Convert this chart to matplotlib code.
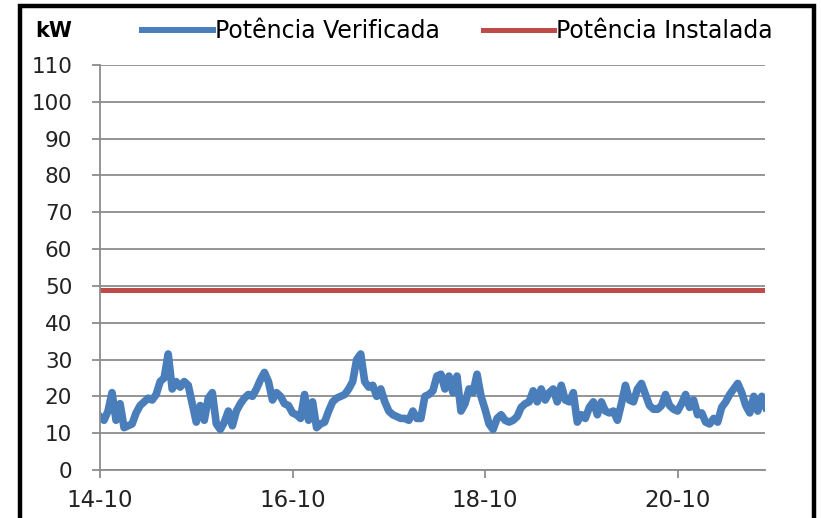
import numpy as np
import pandas as pd
import matplotlib
matplotlib.use("Agg")
from matplotlib import pyplot as plt
from matplotlib.patches import Rectangle

# hourly readings from 14-10 00:00 (kW)
potencia_verificada = [
    14.5, 13.5, 16, 21, 13.5, 18, 11.5, 12, 12.5, 15.5, 17.5, 18.5, 19.5, 19, 20.5, 24,
    25, 31.5, 22, 24, 22.5, 24, 23, 18, 13, 17.5, 13.5, 19.5, 21, 12.5, 11, 13,
    16, 12, 16, 18, 19.5, 20.5, 20, 22, 24.5, 26.5, 24, 19, 21, 20, 18, 17.5,
    15.5, 15, 14, 20.5, 13.5, 18.5, 11.5, 12.5, 13, 16, 18.5, 19.5, 20, 20.5, 22, 24,
    30, 31.5, 24, 22.5, 23, 20, 22, 18.5, 16, 15, 14.5, 14, 14, 13.5, 16, 14,
    14, 20, 20.5, 21.5, 25.5, 26, 22, 25.5, 21, 25.5, 16, 18, 22, 21, 26, 20,
    16.5, 12.5, 11, 14, 15, 13.5, 13, 13.5, 14.5, 17, 18, 18.5, 21.5, 18.5, 22, 19,
    21, 22, 18.5, 23, 19, 18.5, 21, 13, 15, 14, 17, 18.5, 15, 18.5, 16, 15.5,
    16, 13.5, 18, 23, 19, 18.5, 22, 23.5, 20.5, 17.5, 16.5, 16.5, 17.5, 20.5, 17.5, 16.5,
    16, 18, 20.5, 17, 19, 15, 15.5, 13, 12.5, 14, 13, 17, 18.5, 20.5, 22, 23.5,
    21, 17.5, 15.5, 20, 16, 20, 17,
]
potencia_instalada = 49
y_ticks = list(range(0, 111, 10))
x_tick_days = ["2013-10-14", "2013-10-16", "2013-10-18", "2013-10-20"]
x_tick_labels = ["14-10", "16-10", "18-10", "20-10"]

tempo = pd.date_range("2013-10-14", periods=len(potencia_verificada), freq="h")

fig = plt.figure(figsize=(8.21, 5.18), dpi=100)
ax = fig.add_axes([0.1218, 0.0927, 0.81, 0.782])

ax.plot(tempo, potencia_verificada, color="#4A7EBB", lw=5.5, solid_joinstyle="round")
ax.axhline(potencia_instalada, color="#BE4B48", lw=3.6)

ax.set_ylim(0, 110)
ax.set_yticks(y_ticks)
ax.set_xlim(tempo[0], tempo[0] + pd.Timedelta(hours=165.8))
ax.set_xticks(pd.to_datetime(x_tick_days), x_tick_labels)

ax.grid(axis="y", color="#8C8C8C", lw=1.3)
ax.set_axisbelow(True)
for s in ["top", "right"]:
    ax.spines[s].set_visible(False)
for s in ["left", "bottom"]:
    ax.spines[s].set_color("#8C8C8C")
    ax.spines[s].set_linewidth(1.3)
ax.tick_params(axis="y", length=6, width=1.3, color="#8C8C8C", pad=14, labelsize=15.5, labelcolor="#222222")
ax.tick_params(axis="x", length=6, width=1.3, color="#8C8C8C", pad=8, labelsize=16.5, labelcolor="#222222")

fig.text(0.043, 0.94, "kW", fontsize=15, fontweight="bold", va="center", ha="left")

h1, = ax.plot([], [], color="#4A7EBB", lw=4.3)
h2, = ax.plot([], [], color="#BE4B48", lw=3.6)
fig.legend([h1, h2], ["Potência Verificada", "Potência Instalada"], loc="center",
           bbox_to_anchor=(0.557, 0.94), ncol=2, frameon=False, fontsize=17,
           handlelength=3.0, handletextpad=0.1, columnspacing=1.8, borderpad=0)

fig.add_artist(Rectangle((20 / 821, -0.05), (814 - 20) / 821, 1.05 - 6 / 518,
                         transform=fig.transFigure, fill=False, ec="black", lw=3.2))

fig.savefig("out.png", dpi=100)
